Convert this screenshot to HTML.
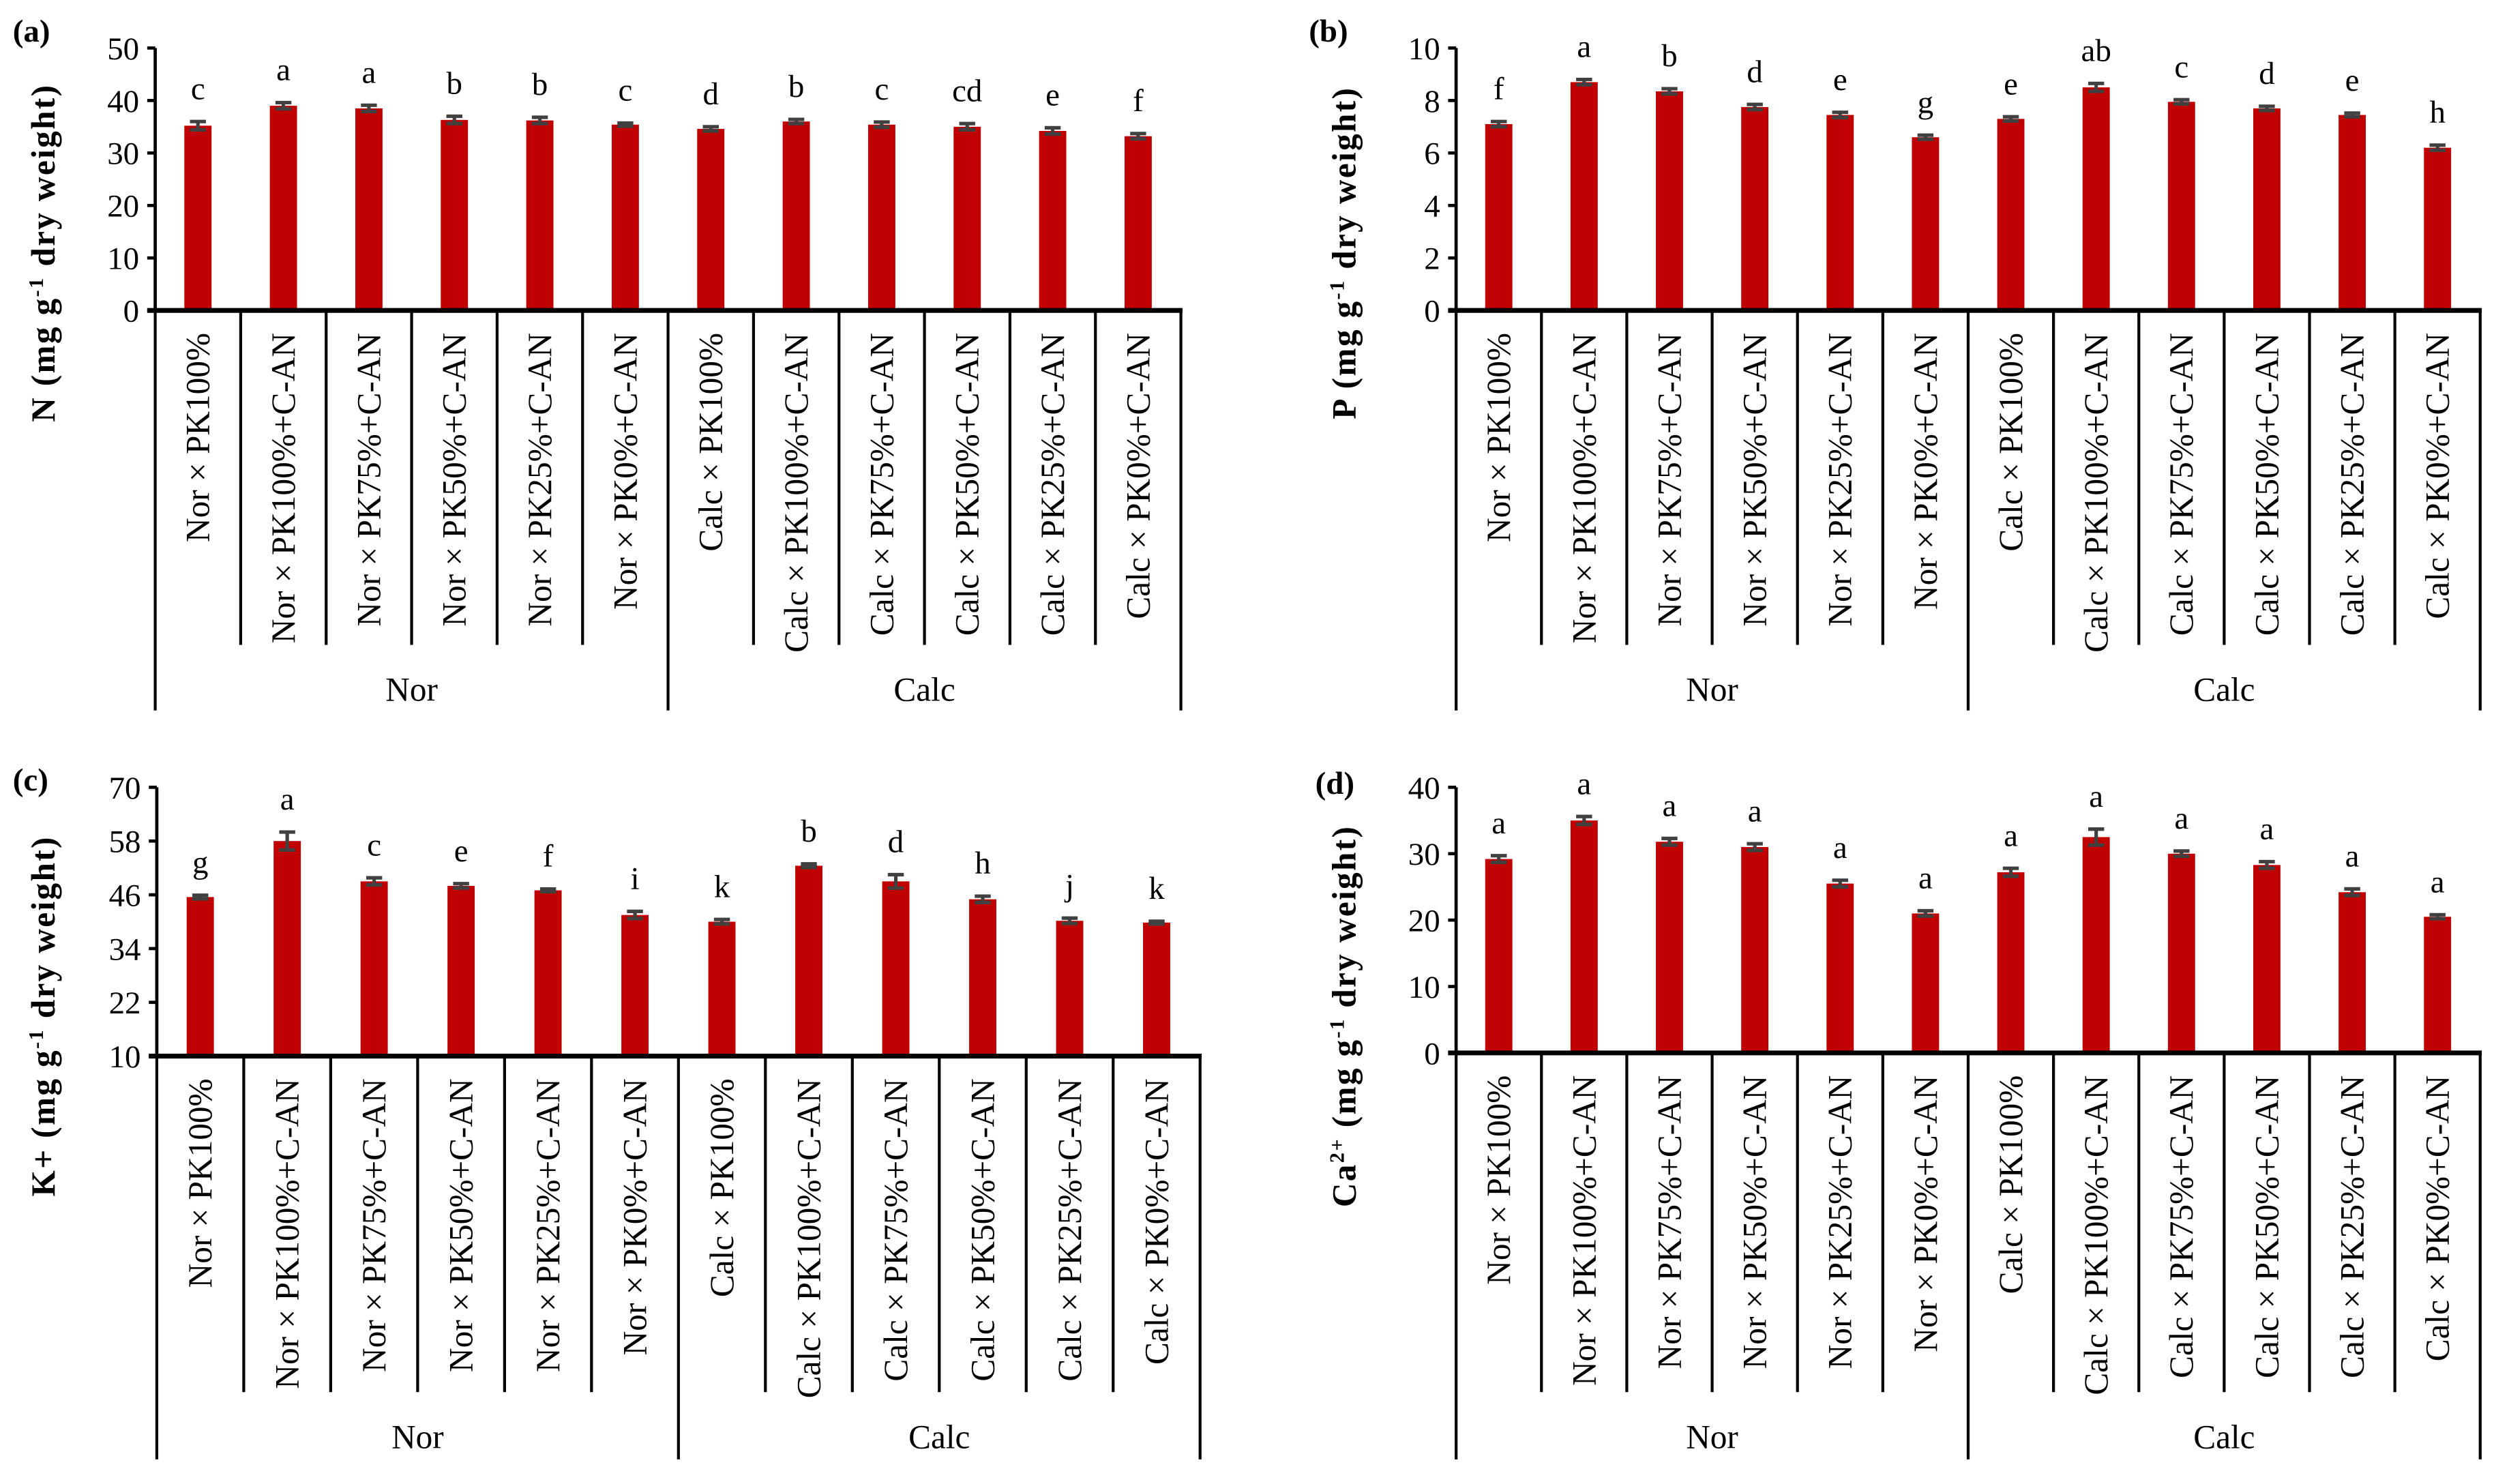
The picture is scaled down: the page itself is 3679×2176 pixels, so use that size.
<!DOCTYPE html>
<html><head><meta charset="utf-8">
<style>
html,body{margin:0;padding:0;background:#fff;}
svg{display:block;font-family:"Liberation Serif",serif;}
</style></head>
<body>
<svg id="fig" xmlns="http://www.w3.org/2000/svg" width="3679" height="2176" viewBox="0 0 1568 927.4">
<rect width="1568" height="927.4" fill="#fff"/>
</svg>
<script>
const categories = ["Nor × PK100%","Nor × PK100%+C-AN","Nor × PK75%+C-AN","Nor × PK50%+C-AN","Nor × PK25%+C-AN","Nor × PK0%+C-AN","Calc × PK100%","Calc × PK100%+C-AN","Calc × PK75%+C-AN","Calc × PK50%+C-AN","Calc × PK25%+C-AN","Calc × PK0%+C-AN"];
const groups = ["Nor","Calc"];
const nValues = [35.2,39.0,38.5,36.3,36.2,35.4,34.6,36.0,35.4,35.0,34.2,33.2];
const nErrors = [0.8,0.6,0.6,0.7,0.6,0.3,0.4,0.4,0.5,0.6,0.6,0.5];
const nLetters = ["c","a","a","b","b","c","d","b","c","cd","e","f"];
const nTicks = [0,10,20,30,40,50];
const pValues = [7.1,8.7,8.35,7.75,7.45,6.6,7.3,8.5,7.95,7.7,7.45,6.2];
const pErrors = [0.1,0.1,0.1,0.1,0.1,0.08,0.08,0.15,0.08,0.08,0.07,0.1];
const pLetters = ["f","a","b","d","e","g","e","ab","c","d","e","h"];
const pTicks = [0,2,4,6,8,10];
const kValues = [45.5,58.0,49.0,48.0,47.0,41.5,40.0,52.5,49.0,45.0,40.2,39.8];
const kErrors = [0.4,2.0,0.8,0.5,0.3,0.8,0.5,0.4,1.5,0.7,0.6,0.3];
const kLetters = ["g","a","c","e","f","i","k","b","d","h","j","k"];
const kTicks = [10,22,34,46,58,70];
const caValues = [29.2,35.0,31.8,31.0,25.5,21.0,27.2,32.5,30.0,28.3,24.2,20.5];
const caErrors = [0.5,0.6,0.5,0.5,0.5,0.4,0.6,1.2,0.4,0.5,0.5,0.3];
const caLetters = ["a","a","a","a","a","a","a","a","a","a","a","a"];
const caTicks = [0,10,20,30,40];

const NS="http://www.w3.org/2000/svg";
const svg=document.getElementById('fig');
function mk(tag,attrs,parent){const e=document.createElementNS(NS,tag);for(const k in attrs)e.setAttribute(k,attrs[k]);(parent||svg).appendChild(e);return e;}

function panel(cfg){
  const g=mk('g',{});
  
  
  const min=cfg.ticks[0],max=cfg.ticks[cfg.ticks.length-1];
  const yS=v=>cfg.yBot-(v-min)/(max-min)*(cfg.yBot-cfg.yTop);
  const n=categories.length, w=(cfg.x1-cfg.x0)/n;
  const xS=i=>cfg.x0+w*(i+0.5);
  const pl=mk('text',{x:cfg.lx,y:cfg.ly,'font-size':20,'font-weight':'bold'},g);
  pl.textContent='('+cfg.id+')';
  
  
  const t=mk('text',{transform:`translate(${cfg.tx},${cfg.ty}) rotate(-90)`,'text-anchor':'middle','font-size':21,'font-weight':'bold','letter-spacing':1},g);
  
  
  t.innerHTML=cfg.title;
  cfg.ticks.forEach(v=>{
    const y=yS(v);
    const l=mk('line',{x1:cfg.x0-5,x2:cfg.x0,y1:y,y2:y,stroke:'#000','stroke-width':2},g);
    
    
    const tx=mk('text',{x:cfg.x0-10,y:y+7,'text-anchor':'end','font-size':20},g);
    tx.textContent=v;
    
    
  });
  cfg.values.forEach((v,i)=>{
    const x=xS(i),bw=17,top=yS(v);
    const r=mk('rect',{x:x-bw/2,y:top,width:bw,height:cfg.yBot-top,fill:'#C00000'},g);
    
    
    const e=cfg.errors[i],ya=yS(v+e),yb=yS(v-e);
    const eb=mk('path',{d:`M${x-5},${ya}H${x+5}M${x},${ya}V${yb}M${x-5},${yb}H${x+5}`,stroke:'#404040','stroke-width':2.2,fill:'none'},g);
    
    
    const lt=mk('text',{x:x,y:ya-14,'text-anchor':'middle','font-size':20},g);
    lt.textContent=cfg.letters[i];
    
    
    const cl=mk('text',{transform:`translate(${x+7},${cfg.yBot+14}) rotate(-90)`,'text-anchor':'end','font-size':21},g);
    cl.textContent=categories[i];
    
    
  });
  for(let i=0;i<=n;i++){
    const x=cfg.x0+w*i;
    const bot=(i===0||i===n||i===n/2)?cfg.outerBot:cfg.sepBot;
    const s=mk('line',{x1:x,x2:x,y1:cfg.yBot,y2:bot,stroke:'#000','stroke-width':1.8},g);
    
    
  }
  const ya=mk('line',{x1:cfg.x0,x2:cfg.x0,y1:cfg.yTop,y2:cfg.yBot,stroke:'#000','stroke-width':2},g);
  
  
  const xa=mk('line',{x1:cfg.x0-5,x2:cfg.x1+1,y1:cfg.yBot,y2:cfg.yBot,stroke:'#000','stroke-width':3},g);
  
  
  groups.forEach((gn,k)=>{
    const gx=cfg.x0+(cfg.x1-cfg.x0)*(k*0.5+0.25);
    const gt=mk('text',{x:gx,y:cfg.groupY,'text-anchor':'middle','font-size':21},g);
    gt.textContent=gn;
    
    
  });
}
const sup1='<tspan baseline-shift="super" font-size="13">-1</tspan>';
panel({id:'a',x0:97,x1:738,yTop:30,yBot:194,sepBot:403,outerBot:444,groupY:438,lx:8,ly:26,tx:34,ty:158,
  title:'N (mg g'+sup1+' dry weight)',ticks:nTicks,values:nValues,errors:nErrors,letters:nLetters});
panel({id:'b',x0:910,x1:1550,yTop:30,yBot:194,sepBot:403,outerBot:444,groupY:438,lx:818,ly:26,tx:847,ty:158,
  title:'P (mg g'+sup1+' dry weight)',ticks:pTicks,values:pValues,errors:pErrors,letters:pLetters});
panel({id:'c',x0:98,x1:750,yTop:492,yBot:660,sepBot:870,outerBot:912,groupY:905,lx:8,ly:494,tx:34,ty:635,
  title:'K+ (mg g'+sup1+' dry weight)',ticks:kTicks,values:kValues,errors:kErrors,letters:kLetters});
panel({id:'d',x0:910,x1:1550,yTop:492,yBot:658,sepBot:870,outerBot:912,groupY:905,lx:822,ly:496,tx:847,ty:635,
  title:'Ca<tspan baseline-shift="super" font-size="13">2+</tspan> (mg g'+sup1+' dry weight)',ticks:caTicks,values:caValues,errors:caErrors,letters:caLetters});
</script>
</body></html>
